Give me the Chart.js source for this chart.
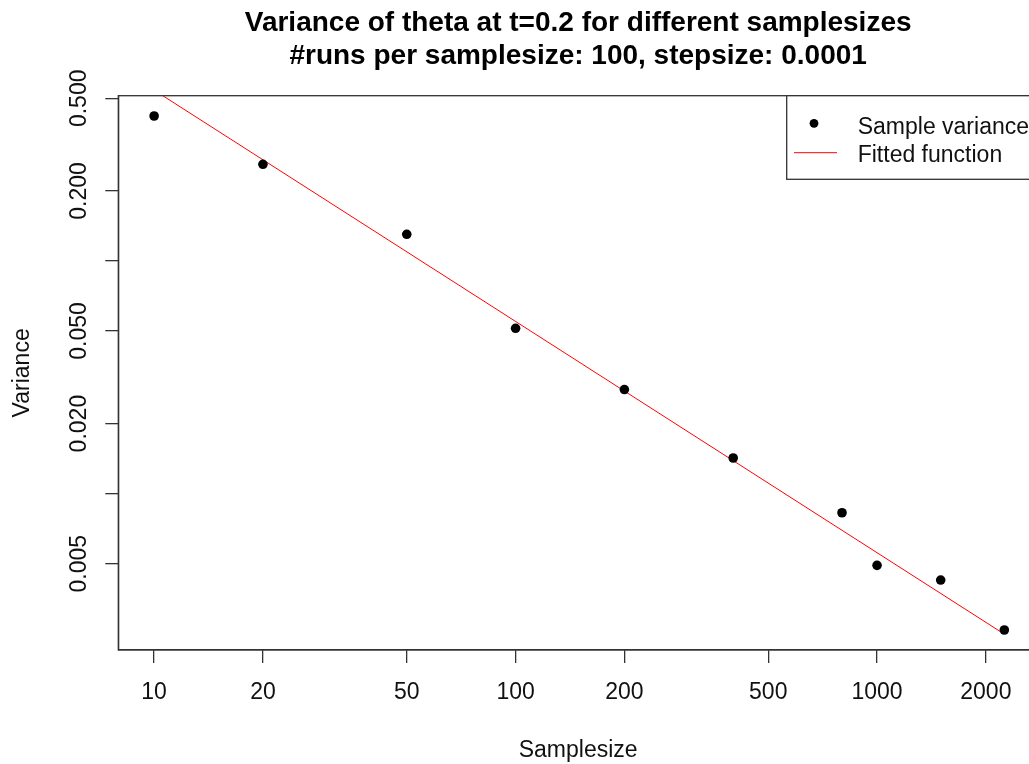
<!DOCTYPE html>
<html>
<head>
<meta charset="utf-8">
<script src="https://cdn.jsdelivr.net/npm/chart.js@4"></script>
<style>
  html, body { margin: 0; padding: 0; background: #fff; overflow: hidden; }
  #wrap { width: 1029px; height: 764px; overflow: hidden; }
</style>
</head>
<body>
<div id="wrap"><canvas id="varChart" width="1050" height="764"></canvas></div>
<script>
// values (log-log plot)
const sampleSizes = [10, 20, 50, 100, 200, 400, 800, 1000, 1500, 2250];
const sampleVariance = [0.4196, 0.2602, 0.1302, 0.05135, 0.02802, 0.01423, 0.00828, 0.00492, 0.004254, 0.002595];
const fittedSizes = [10, 2250];
const fittedValues = [0.542, 0.00249];

const xTicks = [10, 20, 50, 100, 200, 500, 1000, 2000];
const xTickLabels = ['10', '20', '50', '100', '200', '500', '1000', '2000'];
const yTicks = [0.5, 0.2, 0.1, 0.05, 0.02, 0.01, 0.005];
const yTickLabels = ['0.500', '0.200', '', '0.050', '0.020', '', '0.005'];

const titleLines = ['Variance of theta at t=0.2 for different samplesizes', '#runs per samplesize: 100, stepsize: 0.0001'];
const legendLabels = ['Sample variance', 'Fitted function'];

const FONT = '"Liberation Sans", Arial, sans-serif';
const AXIS = '#333';

// R style rotated y tick labels
const yLabelsPlugin = {
    id: 'yLabels',
    afterDraw(chart) {
        const ctx = chart.ctx;
        const y = chart.scales.y;
        ctx.save();
        ctx.font = '23px ' + FONT;
        ctx.fillStyle = '#111';
        ctx.textAlign = 'center';
        ctx.textBaseline = 'alphabetic';
        yTicks.forEach((v, i) => {
            if (!yTickLabels[i]) return;
            ctx.save();
            ctx.translate(85.5, y.getPixelForValue(v));
            ctx.rotate(-Math.PI / 2);
            ctx.fillText(yTickLabels[i], 0, 0);
            ctx.restore();
        });
        ctx.restore();
    }
};

// box around the plot region + legend box
const boxPlugin = {
    id: 'rBox',
    afterDatasetsDraw(chart) {
        const { ctx, chartArea: a } = chart;
        ctx.save();
        ctx.strokeStyle = AXIS;
        ctx.lineWidth = 1.3;
        ctx.strokeRect(a.left, a.top, a.right - a.left, a.bottom - a.top);

        // legend (topright)
        const lx = 786.7, ly = a.top, lh = 83.6;
        ctx.fillStyle = '#fff';
        ctx.fillRect(lx, ly, a.right - lx, lh);
        ctx.strokeRect(lx, ly, a.right - lx, lh);

        ctx.fillStyle = '#000';
        ctx.beginPath();
        ctx.arc(814, 123.3, 4.4, 0, Math.PI * 2);
        ctx.fill();

        ctx.strokeStyle = 'red';
        ctx.lineWidth = 1;
        ctx.beginPath();
        ctx.moveTo(794, 152.7);
        ctx.lineTo(837, 152.7);
        ctx.stroke();

        ctx.font = '23px ' + FONT;
        ctx.fillStyle = '#111';
        ctx.textAlign = 'left';
        ctx.textBaseline = 'alphabetic';
        ctx.fillText(legendLabels[0], 857.7, 133.5);
        ctx.fillText(legendLabels[1], 857.7, 162);
        ctx.restore();
    }
};

new Chart(document.getElementById('varChart'), {
    type: 'scatter',
    data: {
        datasets: [{
            label: legendLabels[0],
            data: sampleSizes.map((n, i) => ({ x: n, y: sampleVariance[i] })),
            backgroundColor: '#000',
            borderColor: '#000',
            pointRadius: 4.8,
            pointBorderWidth: 0,
            showLine: false
        }, {
            label: legendLabels[1],
            type: 'line',
            data: fittedSizes.map((n, i) => ({ x: n, y: fittedValues[i] })),
            borderColor: 'red',
            borderWidth: 1,
            pointRadius: 0,
            fill: false,
            tension: 0
        }]
    },
    options: {
        responsive: false,
        animation: false,
        devicePixelRatio: 1,
        layout: { padding: { left: 0, right: 12, top: 0, bottom: 0 } },
        plugins: {
            legend: { display: false },
            tooltip: { enabled: false },
            title: {
                display: true,
                fullSize: false,
                text: titleLines,
                color: '#000',
                font: { family: FONT, size: 28, weight: 'bold', lineHeight: 1.2 },
                padding: { top: 6.2, bottom: 22.3 }
            }
        },
        scales: {
            x: {
                type: 'logarithmic',
                min: 7.96,
                max: 2788,
                afterBuildTicks: s => { s.ticks = xTicks.map(v => ({ value: v })); },
                afterFit: s => { s.height = 114; },
                grid: { drawOnChartArea: false, drawTicks: true, tickLength: 13, color: AXIS, lineWidth: 1.3 },
                border: { display: true, color: AXIS, width: 1.3 },
                ticks: {
                    autoSkip: false,
                    maxRotation: 0,
                    padding: 16,
                    color: '#111',
                    font: { family: FONT, size: 23 },
                    callback: (v, i) => xTickLabels[i]
                },
                title: {
                    display: true,
                    text: 'Samplesize',
                    color: '#111',
                    font: { family: FONT, size: 23 },
                    padding: { top: 0, bottom: 0 }
                }
            },
            y: {
                type: 'logarithmic',
                min: 0.002129,
                max: 0.5130,
                afterBuildTicks: s => { s.ticks = yTicks.map(v => ({ value: v })); },
                afterFit: s => { s.width = 118.3; },
                grid: { drawOnChartArea: false, drawTicks: true, tickLength: 13, color: AXIS, lineWidth: 1.3 },
                border: { display: true, color: AXIS, width: 1.3 },
                ticks: { display: false },
                title: {
                    display: true,
                    text: 'Variance',
                    color: '#111',
                    font: { family: FONT, size: 23 },
                    padding: { top: 8.7, bottom: 0 }
                }
            }
        }
    },
    plugins: [yLabelsPlugin, boxPlugin]
});
</script>
</body>
</html>
